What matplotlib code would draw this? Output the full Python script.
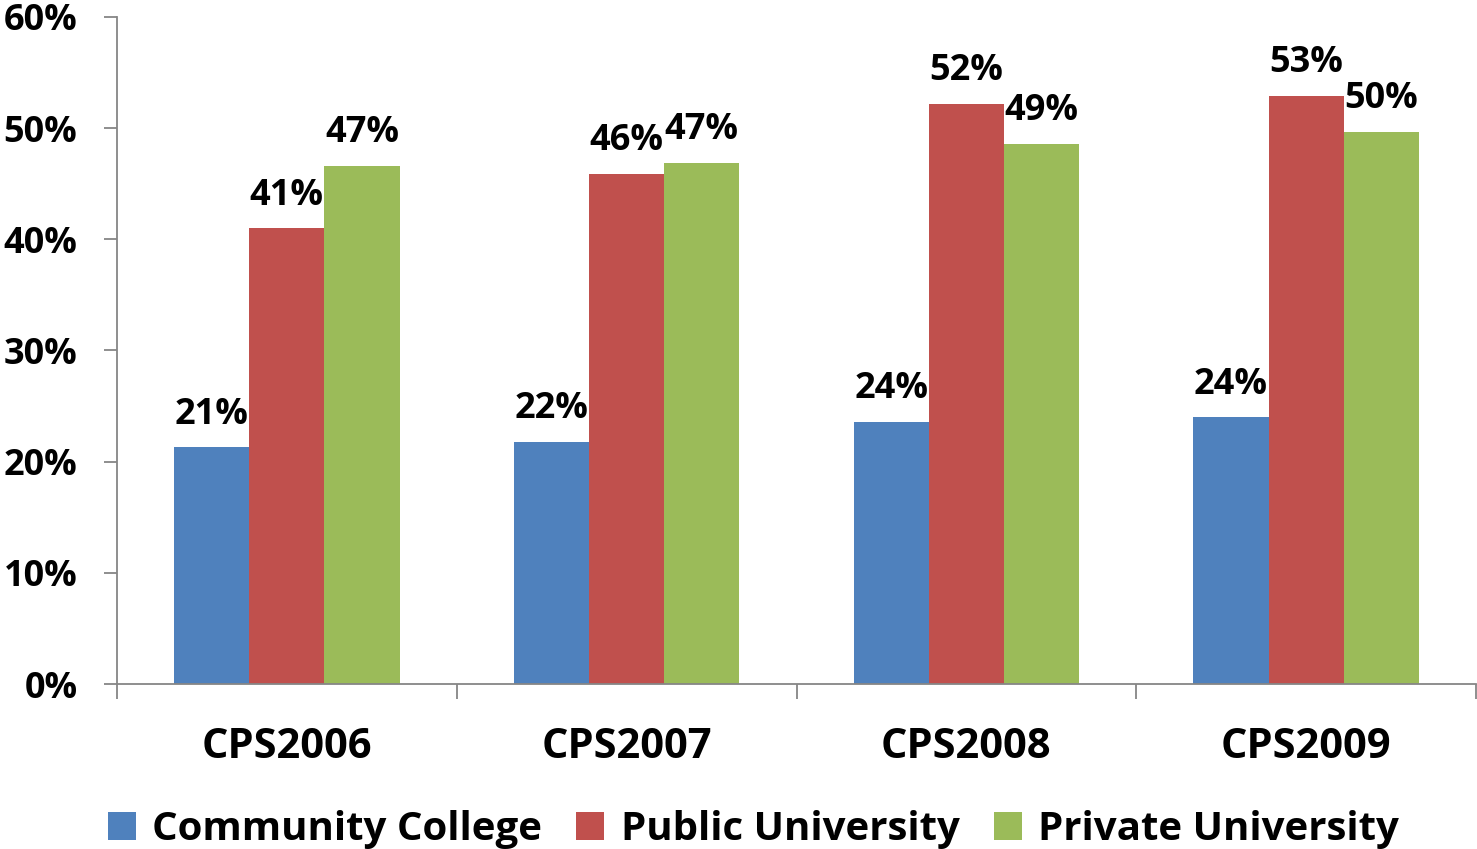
import matplotlib.pyplot as plt
import numpy as np
from matplotlib.ticker import PercentFormatter, FixedLocator

plt.rcParams['font.family'] = ['Open Sans', 'DejaVu Sans']
plt.rcParams['font.weight'] = 'bold'

years = ['CPS2006', 'CPS2007', 'CPS2008', 'CPS2009']
community = [21.3, 21.8, 23.6, 24.0]
public = [41.0, 45.9, 52.2, 52.9]
private = [46.6, 46.9, 48.6, 49.7]

series = [('Community College', community, '#4F81BD'),
          ('Public University', public, '#C0504D'),
          ('Private University', private, '#9BBB59')]

fig = plt.figure(figsize=(14.77, 8.49), dpi=100)
ax = fig.add_axes([117 / 1477, 1 - 684 / 849, 1359 / 1477, 667 / 849])

x = np.arange(len(years))
w = 0.221
for i, (name, vals, col) in enumerate(series):
    pos = x + (i - 1) * w
    ax.bar(pos, vals, w, color=col, label=name, zorder=2)
    for px, v in zip(pos, vals):
        ax.annotate(f'{v:.0f}%', (px, v), xytext=(0, 17), textcoords='offset points',
                    ha='center', va='baseline', fontsize=26, fontweight='bold')

ax.set_xlim(-0.5, len(years) - 0.5)
ax.set_ylim(0, 60)
ax.set_yticks(range(0, 61, 10))
ax.yaxis.set_major_formatter(PercentFormatter(decimals=0))

ax.set_xticks(x)
ax.set_xticklabels(years)
ax.xaxis.set_minor_locator(FixedLocator(np.arange(-0.5, len(years), 1)))
ax.tick_params(axis='x', which='major', length=0, pad=31, labelsize=30)
ax.tick_params(axis='x', which='minor', length=11, width=1.3, color='#868686')
ax.tick_params(axis='y', length=9.5, width=1.3, color='#868686', pad=19, labelsize=26)

for s in ['top', 'right']:
    ax.spines[s].set_visible(False)
for s in ['left', 'bottom']:
    ax.spines[s].set_color('#868686')
    ax.spines[s].set_linewidth(1.3)

fig.legend(loc='lower center', bbox_to_anchor=(0.51, -0.043), ncol=3, frameon=False,
           fontsize=29, handlelength=0.7, handleheight=0.7, handletextpad=0.4,
           columnspacing=0.85)

fig.savefig('out.png', dpi=100)
